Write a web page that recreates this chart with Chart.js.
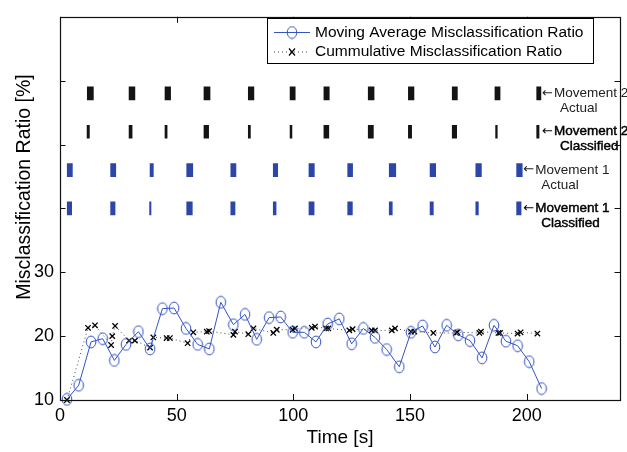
<!DOCTYPE html>
<html>
<head>
<meta charset="utf-8">
<script src="https://cdn.jsdelivr.net/npm/chart.js@4.4.1/dist/chart.umd.min.js"></script>
<style>
  html, body { margin: 0; padding: 0; background: #fff; }
  #wrap { width: 627px; height: 452px; }
</style>
</head>
<body>
<div id="wrap"><canvas id="ratioChart" width="627" height="452"></canvas></div>
<script>
// axis ticks
const xTicks = [0, 50, 100, 150, 200];
const yLabeled = [10, 20, 30];

// moving average misclassification ratio (circles)
const movingTime = [3, 8, 13.3, 18.3, 23.3, 28.3, 33.6, 38.6, 43.9, 48.9, 54, 59, 64, 68.9, 74.3, 79.3,
    84.3, 89.6, 94.6, 99.7, 104.7, 109.7, 114.7, 119.7, 125, 130, 135, 140, 145.4, 150.4, 155.4,
    160.7, 165.7, 170.7, 175.7, 180.9, 186, 191.1, 196.1, 201.1, 206.4];
const movingRatio = [10.1, 12.3, 19.1, 19.6, 16.2, 18.7, 20.7, 18.0, 24.3, 24.4, 21.2, 18.7, 18.0, 25.3, 21.8, 23.4,
    19.5, 22.9, 23.0, 20.6, 20.6, 19.1, 21.9, 22.7, 18.8, 21.2, 19.8, 17.9, 15.2, 20.6, 21.6,
    18.3, 21.7, 20.2, 19.3, 16.6, 21.7, 19.2, 18.5, 16.0, 11.8];

// cumulative misclassification ratio (crosses)
const cumTime = [3, 12, 15, 21.9, 22.4, 23.6, 29.6, 32.1, 38.6, 40, 45.7, 47.1, 54.7, 57.1, 62.9, 63.9,
    74.3, 75, 80.7, 82.9, 91.4, 92.9, 99.7, 100.7, 107.9, 109.3, 114, 115, 124, 125.4, 133.6, 135,
    142.2, 143.6, 150.4, 151.9, 160, 169.7, 170.3, 179.7, 180.4, 187.9, 188.6, 196.1, 197.4, 204.6];
const cumRatio = [10.0, 21.3, 21.7, 18.6, 20.0, 21.6, 19.3, 19.3, 18.2, 19.8, 19.7, 19.7, 18.9, 20.6, 20.7, 20.8,
    20.2, 20.7, 20.3, 21.2, 20.5, 21.0, 21.0, 21.2, 21.3, 21.5, 21.2, 21.2, 20.9, 21.1, 20.9, 20.9,
    20.9, 21.2, 20.7, 20.7, 20.5, 20.5, 20.6, 20.5, 20.7, 20.5, 20.5, 20.4, 20.6, 20.4];

// movement event rows (start / end time of each event)
const rowLevels = [58, 52, 46, 40];
const rowNames = [['Movement 2', 'Actual'], ['Movement 2', 'Classified'], ['Movement 1', 'Actual'], ['Movement 1', 'Classified']];

const m2ActualStart = [11.7, 29.6, 45, 61.7, 80.7, 98.6, 113.1, 132.1, 149.3, 168.1, 186.4, 204.3];
const m2ActualEnd   = [14.3, 32.1, 47.4, 64.3, 83.1, 100.8, 115.4, 134.6, 151.7, 170.3, 188.6, 206.1];
const m2ClassStart  = [11.6, 29.6, 45, 61.7, 80.7, 98.6, 113.1, 132.1, 149.3, 168.1, 186.7, 204.3];
const m2ClassEnd    = [12.6, 30.9, 45.9, 63.7, 81.6, 99.4, 115.2, 134.3, 150.7, 170, 187.4, 205.3];
const m1ActualStart = [3.1, 21.7, 38.6, 54.3, 73.2, 91.4, 106.7, 123.3, 141.1, 158.6, 178.2, 195.7];
const m1ActualEnd   = [5.3, 23.9, 40, 56.9, 75.4, 93.3, 109, 125.4, 143.9, 161, 180.6, 198.1];
const m1ClassStart  = [3.1, 21.7, 38.4, 54.3, 73.2, 91.4, 106.7, 123.3, 141.1, 158.6, 178.2, 195.7];
const m1ClassEnd    = [5, 23.6, 39, 56.7, 75, 92.6, 108.9, 125.3, 142.4, 160, 179.3, 197.6];

const FONT = "'Liberation Sans', Arial, Helvetica, sans-serif";
const lineBlue = '#3353c6';
const barBlue = '#2b46a8';
const barBlack = '#141414';

function ellipseMarker(color) {
    const c = document.createElement('canvas');
    c.width = 12;
    c.height = 14;
    const g = c.getContext('2d');
    g.strokeStyle = color;
    g.lineWidth = 1;
    g.beginPath();
    g.ellipse(6, 7, 4.8, 5.9, 0, 0, Math.PI * 2);
    g.stroke();
    return c;
}
const circleMarker = ellipseMarker(lineBlue);

function eventBars(starts, ends, level, color) {
    return {
        type: 'bar',
        indexAxis: 'y',
        data: starts.map((s, i) => ({ x: [s, ends[i]], y: level })),
        backgroundColor: color,
        borderWidth: 0,
        barThickness: 13,
        grouped: false,
        order: 3
    };
}

// inward ticks, box, row labels, y title and legend, matlab style
const matlabFrame = {
    id: 'matlabFrame',
    afterDatasetsDraw(chart) {
        const { ctx, chartArea: a, scales: { x, y } } = chart;
        ctx.save();

        // row labels
        const labelTime = [Math.max(...m2ActualEnd), Math.max(...m2ActualEnd), Math.max(...m1ActualEnd), Math.max(...m1ActualEnd)];
        ctx.textBaseline = 'middle';
        ctx.textAlign = 'left';
        rowNames.forEach((names, i) => {
            const px = x.getPixelForValue(labelTime[i]) + 1;
            const py = y.getPixelForValue(rowLevels[i]);
            const heavy = names[1] === 'Classified';
            ctx.fillStyle = heavy ? '#000' : '#222';
            ctx.strokeStyle = '#000';
            ctx.lineWidth = 0.45;
            ctx.font = "13px 'DejaVu Sans', sans-serif";
            ctx.fillText('\u2190', px, py);
            ctx.font = '13.5px ' + FONT;
            ctx.fillText(names[0], px + 12, py);
            ctx.fillText(names[1], px + 18, py + 15);
            if (heavy) {
                ctx.strokeText(names[0], px + 12, py);
                ctx.strokeText(names[1], px + 18, py + 15);
            }
        });

        // ticks
        ctx.strokeStyle = '#111';
        ctx.lineWidth = 1;
        ctx.beginPath();
        x.ticks.forEach(t => {
            const px = Math.round(x.getPixelForValue(t.value)) + 0.5;
            ctx.moveTo(px, a.bottom); ctx.lineTo(px, a.bottom - 6);
            ctx.moveTo(px, a.top); ctx.lineTo(px, a.top + 6);
        });
        y.ticks.forEach(t => {
            const py = Math.round(y.getPixelForValue(t.value)) + 0.5;
            ctx.moveTo(a.left, py); ctx.lineTo(a.left + 5.5, py);
            ctx.moveTo(a.right, py); ctx.lineTo(a.right - 5.5, py);
        });
        ctx.stroke();

        // box
        ctx.lineWidth = 1.2;
        ctx.strokeRect(Math.round(a.left) + 0.5, Math.round(a.top) + 0.5,
            Math.round(a.right - a.left), Math.round(a.bottom - a.top));

        // y title
        ctx.save();
        ctx.translate(25, 187);
        ctx.rotate(-Math.PI / 2);
        ctx.fillStyle = '#000';
        ctx.font = '19.5px ' + FONT;
        ctx.textAlign = 'center';
        ctx.textBaseline = 'middle';
        ctx.fillText('Misclassification Ratio [%]', 0, 0);
        ctx.restore();

        // legend
        const lx = 267.5, ly = 18.5, lw = 326, lh = 45;
        ctx.fillStyle = '#fff';
        ctx.fillRect(lx, ly, lw, lh);
        ctx.strokeStyle = '#000';
        ctx.lineWidth = 1;
        ctx.strokeRect(lx, ly, lw, lh);
        const ds = chart.data.datasets;
        const rows = [{ d: ds[0], y: 32.5 }, { d: ds[1], y: 52 }];
        rows.forEach((r, i) => {
            ctx.strokeStyle = r.d.borderColor;
            ctx.setLineDash(r.d.borderDash || []);
            ctx.beginPath();
            ctx.moveTo(274, r.y); ctx.lineTo(310, r.y);
            ctx.stroke();
            ctx.setLineDash([]);
            if (i === 0) {
                ctx.drawImage(circleMarker, 292 - 6, r.y - 7);
            } else {
                ctx.strokeStyle = '#000';
                ctx.lineWidth = 1.2;
                ctx.beginPath();
                ctx.moveTo(289, r.y - 3.5); ctx.lineTo(295, r.y + 3.5);
                ctx.moveTo(295, r.y - 3.5); ctx.lineTo(289, r.y + 3.5);
                ctx.stroke();
            }
            ctx.fillStyle = '#000';
            ctx.font = '15.5px ' + FONT;
            ctx.textAlign = 'left';
            ctx.textBaseline = 'middle';
            ctx.fillText(r.d.label, 315, r.y);
        });
        ctx.restore();
    }
};

new Chart(document.getElementById('ratioChart'), {
    type: 'scatter',
    data: {
        datasets: [
            {
                type: 'line',
                label: 'Moving Average Misclassification Ratio',
                data: movingTime.map((t, i) => ({ x: t, y: movingRatio[i] })),
                borderColor: lineBlue,
                borderWidth: 1,
                pointStyle: circleMarker,
                pointRadius: 6,
                tension: 0,
                fill: false,
                clip: false,
                order: 1
            },
            {
                type: 'line',
                label: 'Cummulative Misclassification Ratio',
                data: cumTime.map((t, i) => ({ x: t, y: cumRatio[i] })),
                borderColor: '#444',
                borderWidth: 1,
                borderDash: [1, 3],
                pointStyle: 'crossRot',
                pointRadius: 3.8,
                pointBorderColor: '#000',
                pointBorderWidth: 1.3,
                tension: 0,
                fill: false,
                clip: false,
                order: 2
            },
            eventBars(m2ActualStart, m2ActualEnd, rowLevels[0], barBlack),
            eventBars(m2ClassStart, m2ClassEnd, rowLevels[1], barBlack),
            eventBars(m1ActualStart, m1ActualEnd, rowLevels[2], barBlue),
            eventBars(m1ClassStart, m1ClassEnd, rowLevels[3], barBlue)
        ]
    },
    options: {
        responsive: false,
        animation: false,
        events: [],
        layout: { padding: { top: 8, right: 6, left: 0, bottom: 0 } },
        plugins: {
            legend: { display: false },
            tooltip: { enabled: false }
        },
        scales: {
            x: {
                type: 'linear',
                min: 0,
                max: 240,
                offset: false,
                grid: { display: false, drawTicks: false, offset: false },
                border: { display: false },
                afterFit: s => { s.height = 52; },
                afterBuildTicks: s => { s.ticks = xTicks.map(v => ({ value: v })); },
                ticks: {
                    color: '#000',
                    padding: 5,
                    maxRotation: 0,
                    font: { family: FONT, size: 18 }
                },
                title: {
                    display: true,
                    text: 'Time [s]',
                    color: '#000',
                    padding: { top: 0, bottom: 3 },
                    font: { family: FONT, size: 19 }
                }
            },
            y: {
                type: 'linear',
                min: 10,
                max: 70,
                offset: false,
                beginAtZero: false,
                grid: { display: false, drawTicks: false, offset: false },
                border: { display: false },
                afterFit: s => { s.width = 60; },
                ticks: {
                    stepSize: 10,
                    color: '#000',
                    padding: 6,
                    font: { family: FONT, size: 18 },
                    callback: v => (yLabeled.includes(v) ? v : '')
                }
            }
        }
    },
    plugins: [matlabFrame]
});
</script>
</body>
</html>
